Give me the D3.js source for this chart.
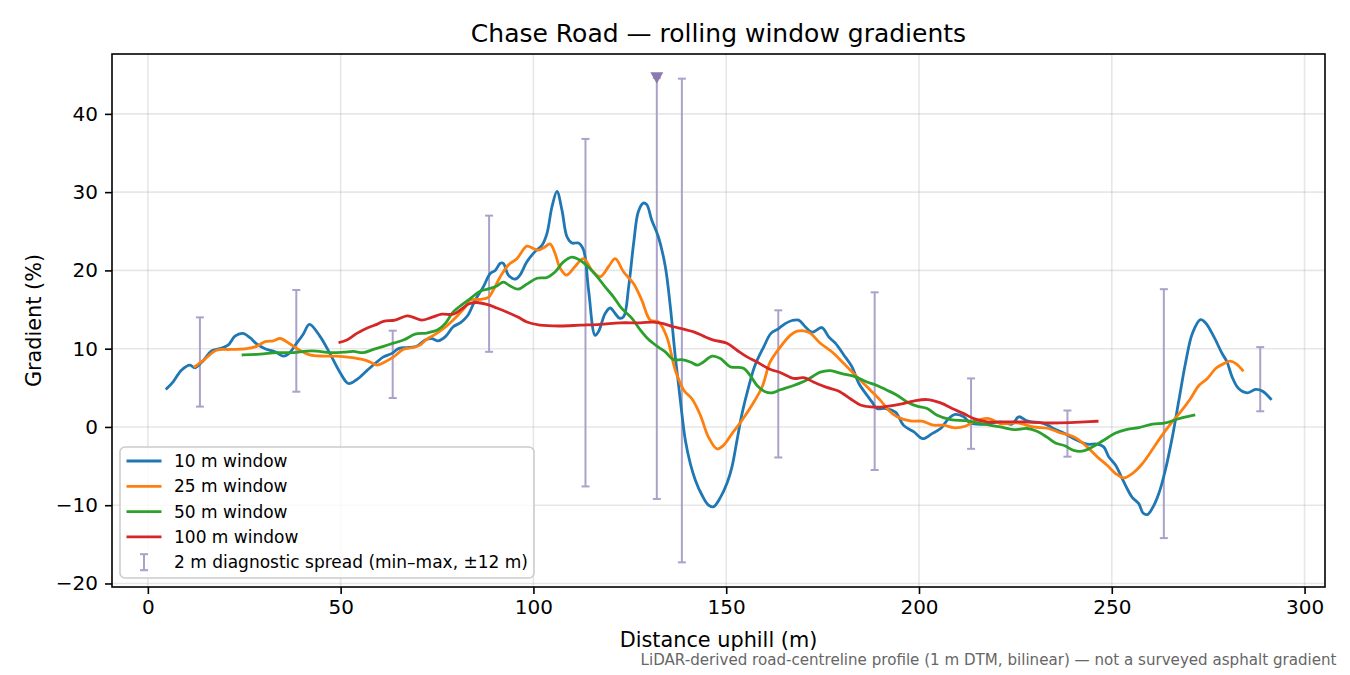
<!DOCTYPE html>
<html>
<head>
<meta charset="utf-8">
<script src="https://cdn.jsdelivr.net/npm/d3@7"></script>
<style>
  body { margin: 0; background: #fff; }
  svg { display: block; font-family: "DejaVu Sans", sans-serif; }
</style>
</head>
<body>
<div id="chart"></div>
<script>
const width = 1350;
const height = 675;
const margin = { top: 54, right: 25, bottom: 88, left: 112 };

// [distance uphill (m), gradient (%)]
const win10 = [
  [4.9,4.9],[6.6,5.8],[8.7,7.25],[10.9,7.9],[12.2,7.55],[14.4,8.5],[16.5,9.7],[18.7,10.0],[20.8,10.45],
  [22.6,11.6],[24.6,11.95],[26.5,11.4],[28.2,10.6],[30.4,10.0],[33.0,9.6],[35.1,9.05],[36.4,9.3],
  [38.6,10.7],[40.3,11.85],[41.9,13.1],[44.6,11.6],[47.2,9.4],[49.8,7.0],[52.0,5.55],[54.2,6.06],
  [56.8,7.2],[59.4,8.3],[61.1,8.95],[63.3,9.4],[65.0,10.0],[67.6,10.15],[69.7,10.3],[71.9,11.1],
  [73.6,11.3],[75.3,11.0],[77.1,11.5],[79.2,12.8],[81.2,13.35],[82.9,14.2],[84.9,16.2],[87.0,17.9],
  [88.8,19.6],[90.1,20.0],[91.4,20.9],[92.2,20.9],[93.5,19.4],[95.3,18.9],[96.5,19.4],[98.3,21.1],
  [100.4,22.4],[102.2,23.2],[103.5,24.7],[104.8,28.1],[106.1,30.1],[107.4,27.7],[108.7,24.3],
  [110.0,23.5],[111.7,23.5],[113.0,22.6],[114.3,17.5],[116.0,11.7],[116.9,12.2],[118.6,14.5],
  [119.9,15.2],[121.2,14.5],[122.3,13.9],[123.4,14.1],[124.7,17.9],[126.0,23.5],[127.2,27.5],
  [128.5,28.6],[129.4,28.4],[130.7,26.4],[132.4,24.3],[134.2,20.5],[135.5,15.4],[136.8,8.95],
  [138.1,3.4],[139.4,-1.7],[140.7,-4.7],[142.0,-6.8],[143.7,-8.7],[145.4,-10.0],[146.7,-10.2],
  [148.5,-9.0],[150.2,-7.2],[151.5,-5.1],[152.8,-1.7],[154.1,1.7],[155.8,5.1],[157.5,7.9],
  [159.7,10.2],[161.6,11.95],[163.4,12.5],[165.3,13.2],[167.1,13.6],[168.8,13.65],[170.5,12.8],
  [172.3,12.1],[174.8,12.7],[176.6,11.5],[178.3,10.7],[180.5,9.2],[182.6,7.7],[184.4,5.55],
  [186.5,4.06],[187.8,3.2],[189.1,2.35],[191.3,2.35],[193.9,1.9],[196.0,0.2],[198.6,-0.6],
  [201.0,-1.5],[203.4,-0.85],[205.6,-0.2],[207.7,1.07],[209.4,1.6],[211.6,1.3],[213.3,0.5],
  [216.8,0.35],[221.1,0.64],[224.1,0.35],[225.9,1.3],[228.0,0.77],[232.4,0.43],[234.9,-0.2],
  [237.8,-0.85],[241.0,-1.7],[243.6,-2.2],[246.2,-2.2],[247.9,-2.55],[249.2,-3.8],[251.0,-4.9],
  [252.7,-6.6],[254.0,-7.9],[255.3,-9.0],[257.0,-9.8],[258.1,-11.0],[259.2,-11.2],[260.5,-10.4],
  [262.2,-8.5],[263.9,-5.5],[265.7,-1.3],[267.4,3.4],[269.1,8.1],[270.9,11.95],[273.0,13.7],
  [274.3,13.3],[276.5,11.5],[278.6,9.4],[279.9,8.3],[281.2,6.4],[282.9,4.9],[285.1,4.35],
  [287.3,4.8],[289.0,4.6],[291.2,3.6]
];
const win25 = [
  [12.2,7.7],[14.4,8.5],[17.8,9.8],[21.3,9.9],[25.6,10.0],[28.2,10.3],[30.4,10.9],[32.5,11.0],
  [34.3,11.3],[36.9,10.6],[39.4,9.8],[42.0,9.2],[45.5,9.05],[48.9,9.05],[52.4,8.9],[55.9,8.6],
  [57.6,8.3],[59.4,7.9],[61.1,8.2],[63.7,8.95],[66.2,9.9],[68.8,10.15],[70.6,10.45],[72.3,11.2],
  [74.9,11.95],[77.5,12.9],[80.1,14.1],[82.3,15.3],[83.6,16.2],[86.2,16.3],[88.3,16.55],[89.6,17.5],
  [91.4,19.2],[93.5,20.7],[95.7,21.5],[98.3,23.1],[100.0,22.8],[101.3,22.6],[103.0,23.0],[104.3,23.4],
  [105.6,22.2],[106.9,20.3],[108.6,19.4],[110.8,20.5],[113.0,21.5],[115.2,20.0],[117.3,19.2],
  [119.5,20.5],[121.2,21.5],[123.4,19.8],[126.0,18.3],[128.1,16.2],[130.3,13.65],[132.5,13.4],
  [134.6,11.5],[136.8,7.25],[139.0,4.7],[141.1,3.6],[143.3,1.5],[145.4,-1.3],[147.6,-2.8],
  [149.3,-2.35],[151.5,-0.85],[154.1,0.86],[156.7,2.8],[159.3,5.1],[161.4,8.3],[164.0,10.2],
  [166.6,11.7],[168.4,12.25],[171.4,12.1],[174.4,10.7],[177.4,9.6],[180.5,8.1],[183.9,6.4],
  [187.4,4.7],[190.0,3.4],[192.2,2.1],[194.3,1.3],[197.8,0.77],[200.8,0.73],[203.8,0.22],
  [206.4,0.22],[209.0,-0.1],[212.0,0.09],[214.6,0.77],[218.1,1.07],[221.1,0.43],[225.4,0.51],
  [229.7,0.0],[233.6,-0.2],[236.7,-0.77],[239.3,-1.1],[241.0,-1.5],[243.6,-2.55],[246.2,-3.8],
  [248.8,-4.9],[251.0,-5.95],[253.1,-6.5],[255.7,-5.8],[257.9,-4.7],[260.1,-3.2],[262.7,-1.3],
  [265.3,0.43],[267.8,1.9],[270.4,3.6],[272.6,5.3],[274.8,6.2],[277.0,7.5],[279.1,8.1],[280.7,8.4],
  [282.2,8.1],[283.9,7.25]
];
const win50 = [
  [24.7,9.2],[29.1,9.3],[33.4,9.5],[37.7,9.5],[41.2,9.7],[43.8,9.7],[47.2,9.5],[50.7,9.55],
  [53.3,9.65],[55.9,9.5],[58.5,9.9],[61.1,10.3],[63.7,10.7],[66.3,11.1],[69.3,11.85],[72.3,12.0],
  [75.3,12.45],[77.1,13.2],[79.2,14.7],[81.4,15.6],[83.6,16.4],[86.2,17.35],[88.8,17.7],[90.5,18.0],
  [92.2,18.5],[94.0,18.0],[96.1,17.6],[98.3,18.25],[100.9,19.0],[103.5,19.1],[105.6,19.8],
  [107.8,21.1],[110.0,21.7],[112.1,21.3],[114.3,20.4],[116.5,19.2],[118.6,17.9],[120.8,16.6],
  [122.9,15.15],[125.5,13.9],[127.7,12.4],[129.8,11.2],[132.4,10.2],[134.2,9.6],[136.3,8.6],
  [138.5,8.6],[140.7,8.3],[142.6,7.9],[144.1,8.3],[146.3,9.05],[148.5,8.75],[151.0,7.7],[154.5,7.5],
  [156.2,6.6],[158.0,5.3],[160.1,4.5],[161.9,4.35],[164.0,4.75],[167.5,5.3],[170.5,5.9],[172.6,6.5],
  [174.4,7.0],[177.0,7.2],[180.0,6.8],[183.0,6.5],[186.5,5.75],[189.1,5.3],[191.7,4.7],[194.3,4.06],
  [196.9,3.2],[199.5,2.65],[202.1,2.35],[204.7,1.5],[208.2,0.94],[212.5,0.77],[216.8,0.35],
  [221.1,0.0],[224.6,-0.35],[228.0,-0.2],[230.6,-0.55],[233.2,-1.3],[235.4,-2.05],[237.8,-2.4],
  [240.1,-3.0],[242.7,-3.07],[245.3,-2.47],[247.9,-1.7],[251.0,-0.77],[254.0,-0.3],[257.0,-0.08],
  [260.5,0.35],[263.9,0.51],[266.9,0.98],[271.3,1.5]
];
const win100 = [
  [49.8,10.8],[51.6,11.1],[54.2,11.95],[57.2,12.7],[59.4,13.1],[61.1,13.5],[64.1,13.65],[67.2,14.2],
  [68.9,14.0],[71.0,13.65],[73.6,14.0],[76.2,14.4],[79.2,14.4],[81.2,15.0],[83.2,15.7],[85.3,15.9],
  [87.9,15.65],[90.5,15.2],[93.5,14.6],[96.1,14.0],[98.3,13.4],[101.7,13.0],[106.9,12.9],
  [112.1,13.0],[117.3,13.1],[122.5,13.3],[127.7,13.3],[131.1,13.4],[133.7,13.2],[136.3,12.8],
  [138.9,12.5],[141.6,12.15],[144.1,11.6],[146.7,11.1],[150.2,10.7],[152.8,9.8],[155.4,8.95],
  [158.0,8.3],[161.2,7.4],[164.0,6.95],[167.5,6.2],[170.1,6.3],[172.6,5.75],[176.1,5.05],
  [179.1,4.6],[182.2,3.6],[184.8,2.8],[187.4,2.56],[190.8,2.56],[195.2,2.9],[198.6,3.3],[202.1,3.5],
  [205.6,3.07],[208.6,2.35],[211.6,1.7],[214.2,1.07],[217.7,0.64],[222.0,0.64],[227.2,0.64],
  [232.4,0.51],[239.3,0.55],[243.0,0.65],[246.2,0.73]
];

// 2 m diagnostic spread (min-max within +/-12 m)
const spreadX  = [13.5, 38.5, 63.5, 88.5, 113.5, 132, 138.5, 163.5, 188.5, 213.5, 238.5, 263.5, 288.5];
const spreadLo = [2.6, 4.5, 3.7, 9.6, -7.6, -9.2, -17.3, -3.9, -5.5, -2.8, -3.8, -14.2, 2.0];
const spreadHi = [14.0, 17.5, 12.3, 27.0, 36.8, 44.6, 44.5, 14.9, 17.2, 6.2, 2.1, 17.6, 10.2];
// steepest 2 m point flagged with a marker
const peakX = [132];
const peakY = [44.6];

const seriesNames = ["10 m window", "25 m window", "50 m window", "100 m window"];
const seriesData = [win10, win25, win50, win100];
const seriesColors = ["#1f77b4", "#ff7f0e", "#2ca02c", "#d62728"];
const xTicks = [0, 50, 100, 150, 200, 250, 300];
const yTicks = [-20, -10, 0, 10, 20, 30, 40];

const plotW = width - margin.left - margin.right;
const plotH = height - margin.top - margin.bottom;
const barColor = "#aca1c9";

const svg = d3.select("#chart")
  .append("svg")
  .attr("width", width)
  .attr("height", height);

const x = d3.scaleLinear().domain([-9.3, 305.3]).range([0, plotW]);
const y = d3.scaleLinear().domain([-20.45, 47.65]).range([plotH, 0]);

const g = svg.append("g")
  .attr("transform", `translate(${margin.left}, ${margin.top})`);

svg.append("defs").append("clipPath").attr("id", "plot-clip")
  .append("rect").attr("width", plotW).attr("height", plotH);

// grid
g.append("g").selectAll("line").data(xTicks).join("line")
  .attr("x1", d => x(d)).attr("x2", d => x(d))
  .attr("y1", 0).attr("y2", plotH)
  .attr("stroke", "#b0b0b0").attr("stroke-opacity", 0.3).attr("stroke-width", 1.6);
g.append("g").selectAll("line").data(yTicks).join("line")
  .attr("y1", d => y(d)).attr("y2", d => y(d))
  .attr("x1", 0).attr("x2", plotW)
  .attr("stroke", "#b0b0b0").attr("stroke-opacity", 0.3).attr("stroke-width", 1.6);

const plot = g.append("g").attr("clip-path", "url(#plot-clip)");

// error bars
const bars = plot.append("g")
  .attr("stroke", barColor).attr("stroke-width", 2).attr("fill", "none");
spreadX.forEach((sx, i) => {
  const cx = x(sx);
  bars.append("line").attr("x1", cx).attr("x2", cx)
    .attr("y1", y(spreadLo[i])).attr("y2", y(spreadHi[i]));
  [spreadLo[i], spreadHi[i]].forEach(v => {
    bars.append("line").attr("x1", cx - 4).attr("x2", cx + 4)
      .attr("y1", y(v)).attr("y2", y(v));
  });
});

// lines
const line = d3.line()
  .x(d => x(d[0]))
  .y(d => y(d[1]))
  .curve(d3.curveCatmullRom.alpha(0.5));
seriesData.forEach((data, i) => {
  plot.append("path")
    .datum(data)
    .attr("fill", "none")
    .attr("stroke", seriesColors[i])
    .attr("stroke-width", 2.8)
    .attr("stroke-linejoin", "round")
    .attr("stroke-linecap", "square")
    .attr("d", line);
});

// peak marker
plot.selectAll(".peak").data(peakX).join("path")
  .attr("class", "peak")
  .attr("transform", (d, i) => `translate(${x(d)}, ${y(peakY[i])})`)
  .attr("d", "M-6.5,-5.5L6.5,-5.5L0,6Z")
  .attr("fill", "#8a7aad");

// axes
const fmt = d => d < 0 ? "\u2212" + Math.abs(d) : String(d);
const xAxis = d3.axisBottom(x).tickValues(xTicks).tickFormat(fmt).tickSize(7).tickPadding(6);
const yAxis = d3.axisLeft(y).tickValues(yTicks).tickFormat(fmt).tickSize(7).tickPadding(7);

const xg = g.append("g").attr("transform", `translate(0, ${plotH})`).call(xAxis);
const yg = g.append("g").call(yAxis);
[xg, yg].forEach(a => {
  a.select(".domain").remove();
  a.selectAll(".tick line").attr("stroke", "#000").attr("stroke-width", 1.6);
  a.selectAll(".tick text")
    .attr("fill", "#000")
    .style("font-family", "DejaVu Sans")
    .style("font-size", "20px");
});

// frame
g.append("rect")
  .attr("width", plotW).attr("height", plotH)
  .attr("fill", "none").attr("stroke", "#000").attr("stroke-width", 1.6);

// legend
const legend = g.append("g").attr("transform", "translate(8, 393)");
legend.append("rect")
  .attr("width", 414).attr("height", 131).attr("rx", 5)
  .attr("fill", "#fff").attr("fill-opacity", 0.8)
  .attr("stroke", "#cccccc").attr("stroke-width", 1.6);
const legendNames = seriesNames.concat(["2 m diagnostic spread (min\u2013max, \u00b112 m)"]);
legendNames.forEach((name, i) => {
  const ly = 14 + i * 25.3;
  if (i < seriesNames.length) {
    legend.append("line")
      .attr("x1", 6.5).attr("x2", 41.5).attr("y1", ly).attr("y2", ly)
      .attr("stroke", seriesColors[i]).attr("stroke-width", 2.8);
  } else {
    const lg = legend.append("g").attr("stroke", barColor).attr("stroke-width", 2);
    lg.append("line").attr("x1", 24).attr("x2", 24).attr("y1", ly - 8).attr("y2", ly + 8);
    lg.append("line").attr("x1", 20).attr("x2", 28).attr("y1", ly - 8).attr("y2", ly - 8);
    lg.append("line").attr("x1", 20).attr("x2", 28).attr("y1", ly + 8).attr("y2", ly + 8);
  }
  legend.append("text")
    .attr("x", 54).attr("y", ly + 6)
    .style("font-size", "17px")
    .attr("fill", "#000")
    .text(name);
});

// Titles and labels
svg.append("text")
  .attr("x", margin.left + plotW / 2)
  .attr("y", 42)
  .attr("text-anchor", "middle")
  .style("font-size", "25px")
  .text("Chase Road \u2014 rolling window gradients");
svg.append("text")
  .attr("x", margin.left + plotW / 2)
  .attr("y", 647)
  .attr("text-anchor", "middle")
  .style("font-size", "20.8px")
  .text("Distance uphill (m)");
svg.append("text")
  .attr("transform", `translate(41, ${margin.top + plotH / 2}) rotate(-90)`)
  .attr("text-anchor", "middle")
  .style("font-size", "20.8px")
  .text("Gradient (%)");
svg.append("text")
  .attr("x", 1336.5)
  .attr("y", 665)
  .attr("text-anchor", "end")
  .attr("fill", "#666666")
  .style("font-size", "15.1px")
  .text("LiDAR-derived road-centreline profile (1 m DTM, bilinear) \u2014 not a surveyed asphalt gradient");
</script>
</body>
</html>
